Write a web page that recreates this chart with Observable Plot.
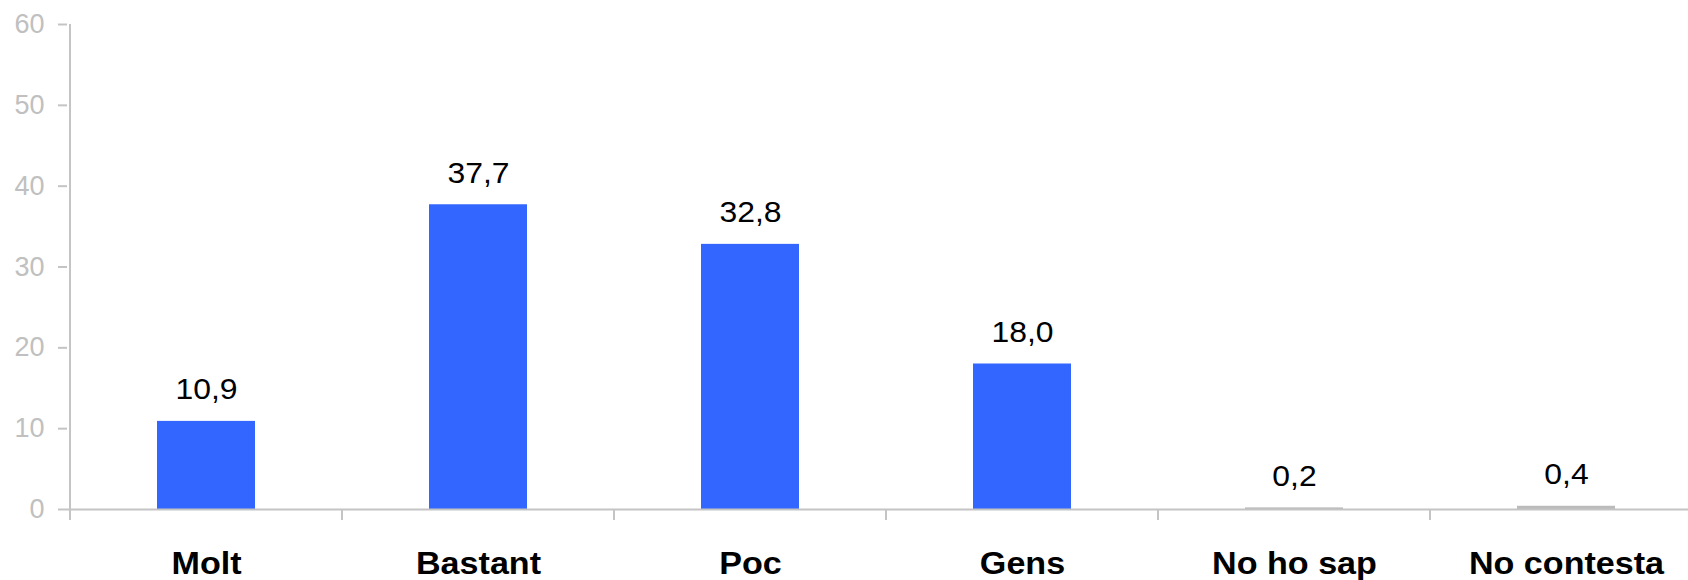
<!DOCTYPE html>
<html><head><meta charset="utf-8">
<script src="https://cdn.jsdelivr.net/npm/d3@7"></script>
<script src="https://cdn.jsdelivr.net/npm/@observablehq/plot@0.6"></script>
<style>body{margin:0;background:#fff}</style>
</head><body><div id="chart"></div>
<script>
const categories = ["Molt", "Bastant", "Poc", "Gens", "No ho sap", "No contesta"];
const values = [10.9, 37.7, 32.8, 18.0, 0.2, 0.4];
const yTicks = [0, 10, 20, 30, 40, 50, 60];
const neutralCategories = ["No ho sap", "No contesta"];

const data = categories.map((c, i) => ({category: c, value: values[i]}));
const fmt = v => v.toFixed(1).replace(".", ",");
const axisColor = "#c4c4c4";
const padInner = 0.64;

const boundaries = (index, scales) => {
  const x = scales.x, y = scales.y;
  const step = x(categories[1]) - x(categories[0]);
  const bw = typeof x.bandwidth === "function" ? x.bandwidth() : step * (1 - padInner);
  const edges = categories.map(c => x(c) + bw / 2 - step / 2);
  edges.push(edges[edges.length - 1] + step);
  const y0 = y(0), yTop = y(d3.max(yTicks));
  const g = d3.create("svg:g").attr("stroke", axisColor).attr("stroke-width", 2);
  edges.forEach((e, i) => g.append("line")
    .attr("x1", e).attr("x2", e)
    .attr("y1", i === 0 ? yTop : y0).attr("y2", y0 + 11));
  return g.node();
};

const chart = Plot.plot({
  width: 1688, height: 580,
  marginTop: 24, marginBottom: 71, marginLeft: 67, marginRight: 0,
  style: {fontFamily: "'Liberation Sans', Arial, sans-serif", background: "#fff"},
  x: {domain: categories, range: [67, 1704], paddingInner: padInner, paddingOuter: padInner / 2, label: null},
  y: {domain: [0, 60], label: null},
  color: {type: "identity"},
  marks: [
    Plot.barY(data, {x: "category", y: "value", fill: d => neutralCategories.includes(d.category) ? "#bbbbbb" : "#3366ff"}),
    Plot.ruleY([0], {stroke: axisColor, strokeWidth: 2}),
    boundaries,
    Plot.text(data, {x: "category", y: "value", text: d => fmt(d.value), dy: -22, lineAnchor: "bottom", fontSize: 29, fill: "#000"}),
    Plot.axisY({ticks: yTicks, tickSize: 9, tickPadding: 14, fontSize: 27, stroke: axisColor, strokeWidth: 2, fill: "#c0c0c0", tickFormat: d => d, label: null}),
    Plot.axisX({tickSize: 0, tickPadding: 42, fontSize: 31, fontWeight: "bold", fill: "#000", label: null})
  ]
});

// slightly wider letterforms, as in the reference
function widen(selector, s) {
  chart.querySelectorAll(selector).forEach(t => {
    const tr = t.getAttribute("transform");
    if (tr) {
      t.setAttribute("transform", tr + ` scale(${s},1)`);
    } else {
      const x = +t.getAttribute("x") || 0, y = +t.getAttribute("y") || 0;
      t.removeAttribute("x"); t.removeAttribute("y");
      t.setAttribute("transform", `translate(${x},${y}) scale(${s},1)`);
    }
  });
}
widen('g[aria-label="text"] text', 1.1);
widen('g[aria-label="x-axis tick label"] text', 1.1);

document.getElementById("chart").appendChild(chart);
</script>
</body></html>
